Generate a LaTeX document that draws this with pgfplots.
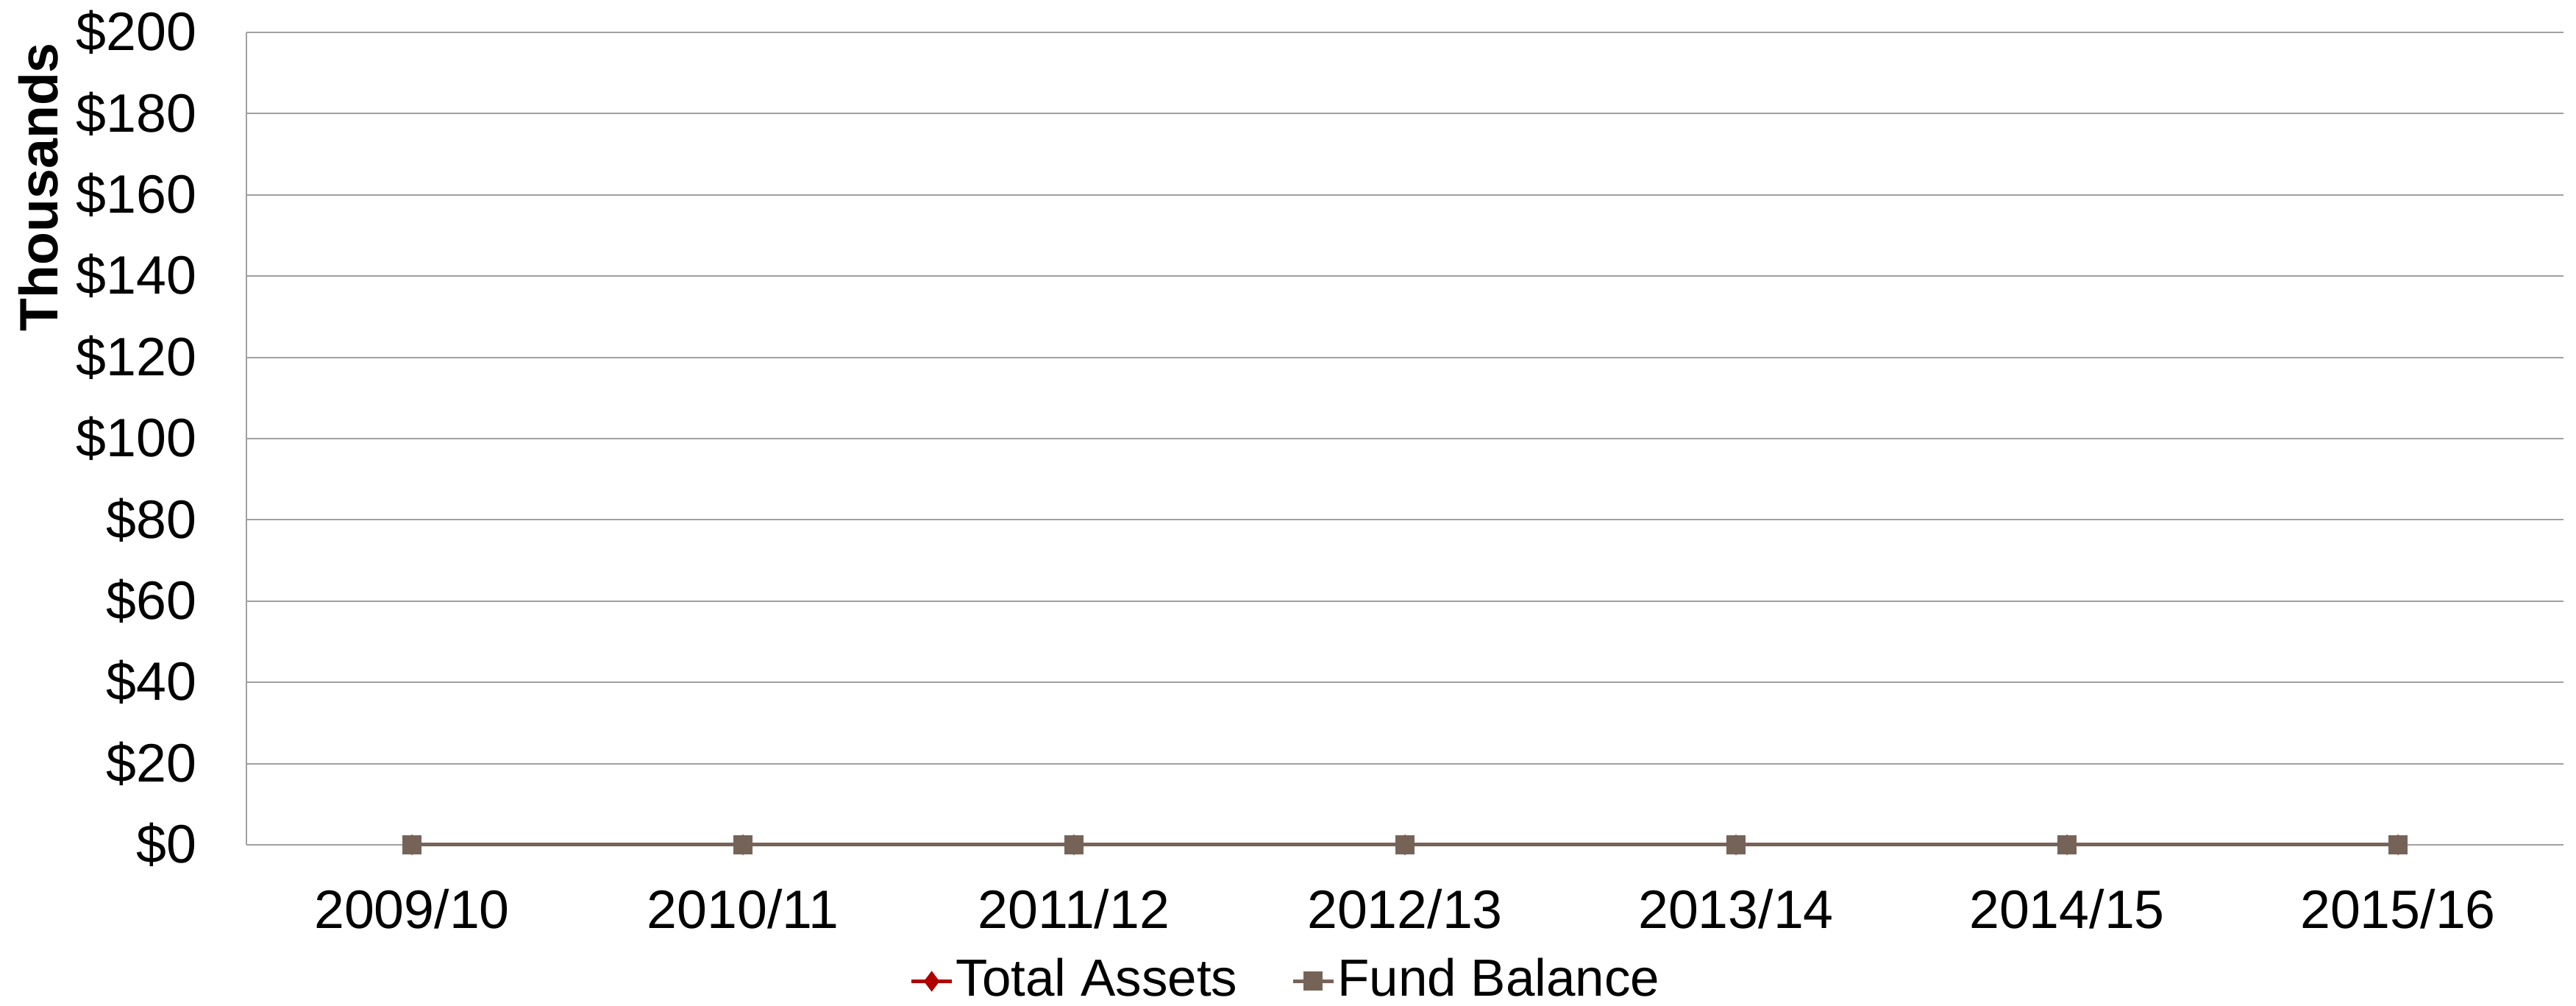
\documentclass[border=0pt]{standalone}
\usepackage{pgfplots}
\pgfplotsset{compat=1.18}
\usepackage{fontspec}
\setmainfont{Liberation Sans}
\definecolor{assetred}{HTML}{B00000}
\definecolor{fundbrown}{HTML}{766358}
\definecolor{gridgray}{HTML}{A0A0A0}
\begin{document}
\fontsize{14.7pt}{17pt}\selectfont
\begin{tikzpicture}
\begin{axis}[
  scale only axis,
  width=630pt, height=220.8pt,
  xmin=-0.5, xmax=6.5,
  ymin=0, ymax=200,
  xtick={0,1,2,3,4,5,6},
  xticklabels={2009/10,2010/11,2011/12,2012/13,2013/14,2014/15,2015/16},
  ytick={0,20,40,60,80,100,120,140,160,180,200},
  yticklabels={\$0,\$20,\$40,\$60,\$80,\$100,\$120,\$140,\$160,\$180,\$200},
  major tick length=0pt,
  axis x line*=bottom, axis y line*=left,
  axis line style={gridgray, line width=0.5pt, -},
  ymajorgrids, grid style={gridgray, line width=0.4pt},
  tick label style={font=\fontsize{14.7pt}{17pt}\selectfont},
  xticklabel style={yshift=-7pt},
  yticklabel style={xshift=-8.5pt},
  clip=false,
  legend columns=2,
  legend style={at={(rel axis cs:0.4486,-0.168)}, anchor=center, draw=none, fill=none,
    font=\fontsize{14.2pt}{17pt}\selectfont, column sep=0pt, inner sep=0pt,
    nodes={inner sep=0.6pt},
    /tikz/every odd column/.append style={column sep=0pt},
    /tikz/every even column/.append style={column sep=14pt}},
  legend image code/.code={\draw[#1] (0pt,0pt) -- (11pt,0pt); \draw[#1,mark repeat=2,mark phase=2] plot coordinates {(0pt,0pt) (5.5pt,0pt) (11pt,0pt)};},
]
\addplot[color=assetred, line width=1pt, mark=diamond*, mark size=2pt, mark options={solid}]
  coordinates {(0,0) (1,0) (2,0) (3,0) (4,0) (5,0) (6,0)};
\addlegendentry{Total Assets}
\addplot[color=fundbrown, line width=1pt, mark=square*, mark size=2.1pt]
  coordinates {(0,0) (1,0) (2,0) (3,0) (4,0) (5,0) (6,0)};
\addlegendentry{Fund Balance}
\node[rotate=90, anchor=east, inner sep=0pt, font=\bfseries\fontsize{14.7pt}{17pt}\selectfont]
  at (rel axis cs:-0.0898,0.988) {Thousands};
\coordinate (bbl) at (rel axis cs:-0.10635,-0.19837);
\coordinate (btr) at (rel axis cs:1.00540,1.03986);
\end{axis}
\pgfresetboundingbox
\path[use as bounding box] (bbl) rectangle (btr);
\end{tikzpicture}
\end{document}
